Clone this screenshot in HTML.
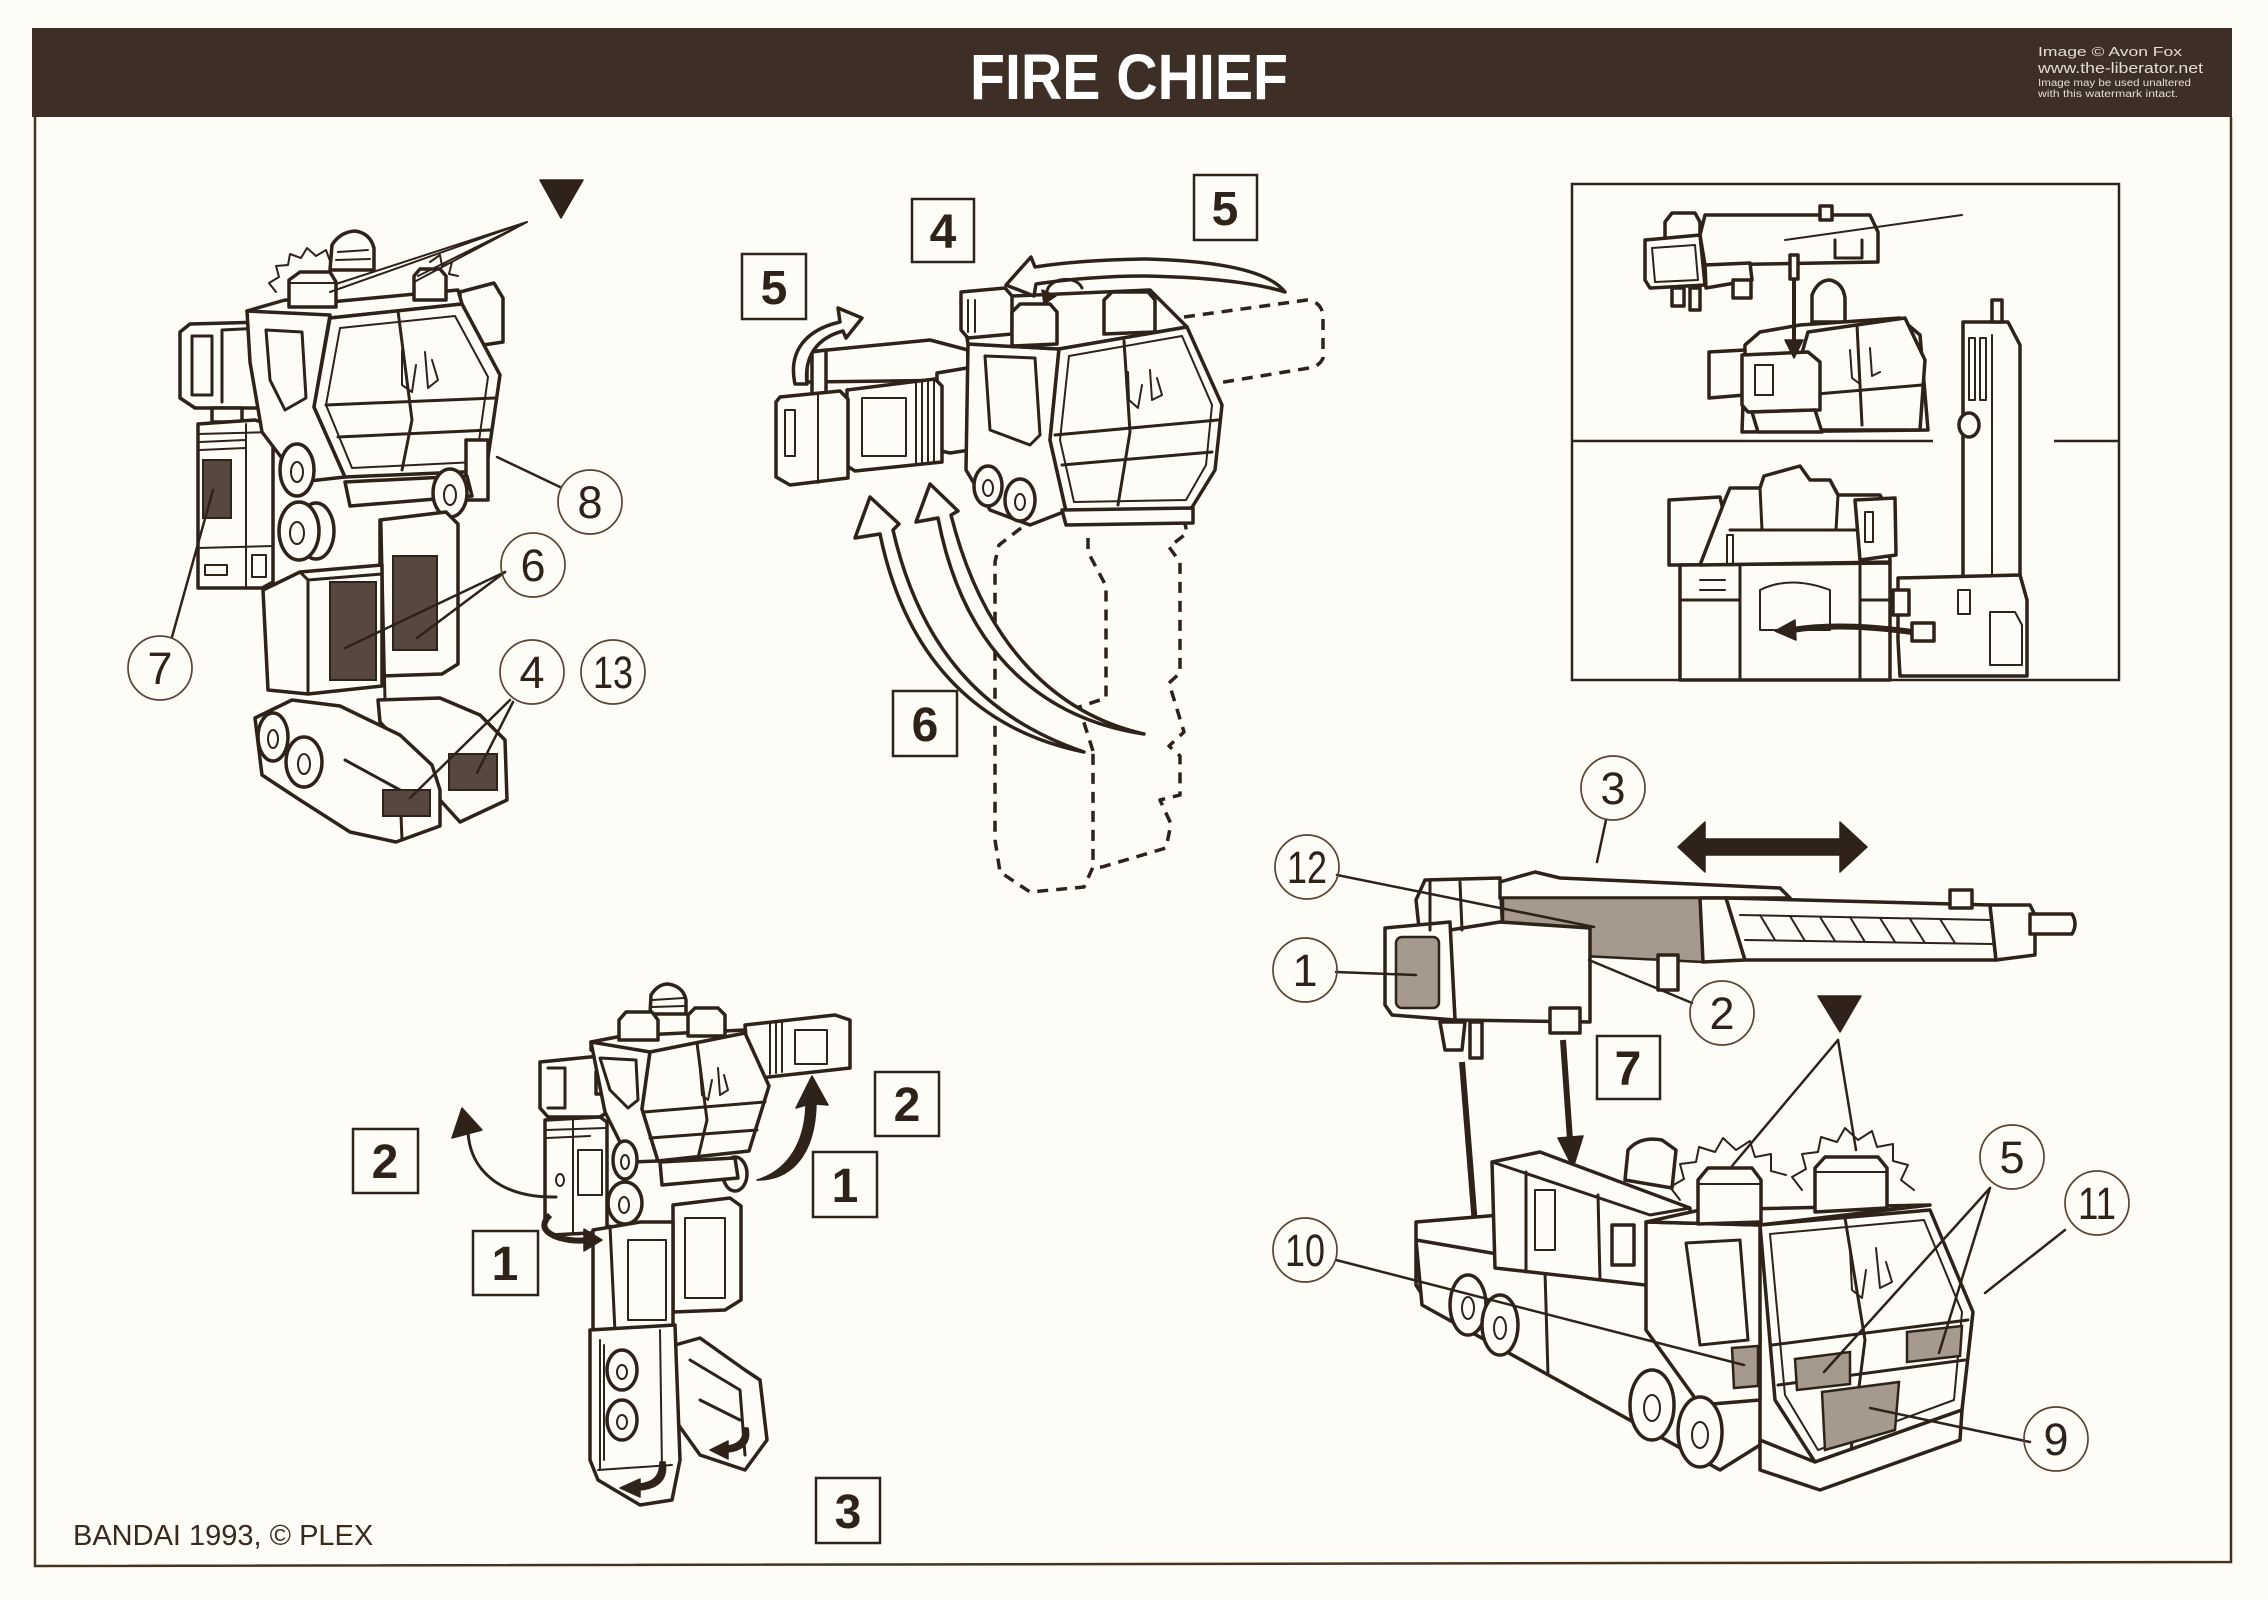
<!DOCTYPE html>
<html><head><meta charset="utf-8">
<style>
html,body{margin:0;padding:0;background:#fdfcf7;}
svg{display:block}
.o{fill:#fdfcf7;stroke:#2f2219;stroke-width:3.5;stroke-linejoin:round;stroke-linecap:round}
.l{fill:none;stroke:#2f2219;stroke-width:3;stroke-linecap:round;stroke-linejoin:round}
.t{fill:none;stroke:#2f2219;stroke-width:2;stroke-linecap:round;stroke-linejoin:round}
.d{fill:#56483e;stroke:#2f2219;stroke-width:2}
.g{fill:#a69a8f;stroke:#2f2219;stroke-width:2.5}
.k{fill:#2f2219;stroke:#2f2219;stroke-width:1.5;stroke-linejoin:round}
.ds{fill:none;stroke:#2f2219;stroke-width:3.5;stroke-dasharray:11 8;stroke-linejoin:round}
.c{fill:none;stroke:#5b4332;stroke-width:1.7}
.cn{font-family:"Liberation Sans Narrow","Liberation Sans",sans-serif;font-size:45px;fill:#2f2219;text-anchor:middle}
.b{fill:none;stroke:#2f2219;stroke-width:2.5}
.bn{font-family:"Liberation Sans",sans-serif;font-weight:bold;font-size:48px;fill:#2f2219;text-anchor:middle}
.ld{fill:none;stroke:#2f2219;stroke-width:2.5;stroke-linecap:round}
.wm{font-family:"Liberation Sans Narrow","Liberation Sans",sans-serif;fill:#e4ddd6}
</style></head><body>
<svg width="2268" height="1600" viewBox="0 0 2268 1600" xmlns="http://www.w3.org/2000/svg">
<rect x="0" y="0" width="2268" height="1600" fill="#fdfcf7"/>

<!-- HEADER -->
<rect x="32" y="28" width="2200" height="89" fill="#3e2f26"/>
<text x="1129" y="99" font-family="Liberation Sans, sans-serif" font-weight="bold" font-size="64" fill="#ffffff" text-anchor="middle" textLength="318" lengthAdjust="spacingAndGlyphs">FIRE CHIEF</text>
<text class="wm" x="2038" y="56" font-size="13" textLength="144" lengthAdjust="spacingAndGlyphs">Image © Avon Fox</text>
<text class="wm" x="2038" y="73" font-size="15" textLength="165" lengthAdjust="spacingAndGlyphs">www.the-liberator.net</text>
<text class="wm" x="2038" y="86" font-size="10" textLength="153" lengthAdjust="spacingAndGlyphs">Image may be used unaltered</text>
<text class="wm" x="2038" y="97" font-size="10" textLength="140" lengthAdjust="spacingAndGlyphs">with this watermark intact.</text>

<!-- FRAME -->
<path d="M35,117 L35,1566 L2231,1562 L2231,117" fill="none" stroke="#45331f" stroke-width="2.5"/>

<!-- ============ ROBOT 1 (top-left) ============ -->
<polygon class="k" points="540,180 583,180 561,218"/>
<polyline class="t" points="276,292 269,283 279,277 276,266 288,265 290,254 301,258 307,248 316,256 326,250 330,261"/>
<polyline class="t" points="430,262 440,255 442,266 452,262 449,274 458,276"/>
<polygon class="o" points="460,292 494,283 503,298 503,342 470,347 460,340"/>
<path class="o" d="M330,270 L332,245 Q340,232 355,231 Q370,233 374,248 L374,270 Z"/>
<path class="t" d="M338,252 L368,250 M336,260 L370,259"/>
<polygon class="o" points="247,311 285,300 330,302 458,290 462,304 330,318"/>
<polygon class="o" points="289,280 300,272 330,272 336,282 336,307 289,307"/>
<line class="t" x1="289" y1="283" x2="336" y2="283"/>
<polygon class="o" points="414,276 420,269 440,269 446,276 446,300 414,300"/>
<polygon class="o" points="180,332 190,324 262,322 274,330 274,400 262,408 195,408 180,398"/>
<path class="l" d="M192,336 L212,336 L212,395 L192,395 Z"/>
<path class="l" d="M222,330 L262,328 M222,330 L222,402"/>
<rect class="o" x="256" y="345" width="11" height="30"/>
<rect class="o" x="212" y="408" width="30" height="14"/>
<polygon class="o" points="198,424 255,420 273,426 273,582 262,588 198,588"/>
<path class="t" d="M198,434 L273,432 M200,442 L245,440 M200,450 L245,448 M246,424 L246,588 M198,548 L273,546"/>
<rect class="d" x="203" y="460" width="28" height="58"/>
<rect class="t" x="205" y="565" width="22" height="10"/>
<rect class="t" x="252" y="555" width="14" height="22"/>
<polygon class="o" points="247,311 330,315 314,407 345,477 300,482 262,432 250,362"/>
<polygon class="l" points="266,330 302,332 306,398 285,410 270,380"/>
<polygon class="o" points="330,318 462,304 500,375 486,471 345,477 314,407"/>
<polygon class="t" points="340,328 455,316 488,377 476,462 352,468 326,405"/>
<path class="l" d="M398,311 L412,420 L402,470 M326,405 L495,398 M338,437 L490,430"/>
<path class="t" d="M402,350 L402,385 L412,392 L416,365 M425,352 L428,388 L438,380 L432,360"/>
<rect class="o" x="466" y="440" width="22" height="60"/>
<polygon class="o" points="345,482 467,476 472,496 350,506"/>
<ellipse class="o" cx="297" cy="470" rx="17" ry="26"/><ellipse class="t" cx="297" cy="472" rx="6" ry="10"/>
<ellipse class="o" cx="316" cy="531" rx="18" ry="28"/>
<ellipse class="o" cx="299" cy="531" rx="20" ry="29"/><ellipse class="t" cx="297" cy="533" rx="7" ry="11"/>
<ellipse class="o" cx="450" cy="493" rx="17" ry="24"/><ellipse class="t" cx="450" cy="495" rx="6" ry="10"/>
<polygon class="o" points="380,520 446,512 458,524 458,664 442,674 380,676"/>
<rect class="d" x="393" y="556" width="44" height="94"/>
<polygon class="o" points="263,590 300,572 382,565 382,686 308,694 268,690"/>
<path class="l" d="M300,572 L308,580 L308,694 M308,580 L382,574"/>
<rect class="d" x="330" y="582" width="46" height="98"/>
<line class="l" x1="381" y1="520" x2="385" y2="700"/>
<polygon class="o" points="378,700 440,698 480,715 505,740 507,800 460,822 440,800 415,760 380,722"/>
<rect class="d" x="449" y="754" width="48" height="36"/>
<polygon class="o" points="255,718 292,700 340,706 400,735 432,765 440,790 440,826 396,842 350,832 300,800 262,775"/>
<path class="l" d="M345,760 L400,790 L402,840"/>
<rect class="d" x="383" y="790" width="47" height="26"/>
<ellipse class="o" cx="273" cy="737" rx="15" ry="24"/><ellipse class="t" cx="273" cy="739" rx="5" ry="9"/>
<ellipse class="o" cx="304" cy="762" rx="18" ry="25"/><ellipse class="t" cx="304" cy="764" rx="6" ry="10"/>
<!-- leaders r1 -->
<path class="t" d="M527,222 L330,292 M527,222 L336,284 M527,222 L414,282 M527,222 L418,276"/>
<line class="ld" x1="213" y1="490" x2="172" y2="637"/>
<line class="ld" x1="497" y1="457" x2="560" y2="487"/>
<line class="ld" x1="505" y1="572" x2="345" y2="648"/>
<line class="ld" x1="505" y1="572" x2="417" y2="638"/>
<line class="ld" x1="510" y1="700" x2="410" y2="798"/>
<line class="ld" x1="513" y1="702" x2="477" y2="773"/>

<!-- ============ TOP MIDDLE ============ -->
<polyline class="ds" points="1021,528 999,545 995,562 995,840 1000,872 1030,892 1084,887 1093,867 1093,751"/>
<polyline class="ds" points="1088,538 1088,552 1106,586 1106,698 1079,707 1093,751"/>
<polyline class="ds" points="1180,500 1187,533 1169,547 1180,562 1180,673 1169,683 1184,732 1169,746 1180,756 1180,795 1160,800 1171,824 1166,848 1102,867 1093,867"/>
<path class="ds" d="M1184,317 L1307,300 Q1323,302 1323,318 L1323,358 Q1320,366 1309,368 L1218,383"/>
<path class="o" d="M1084,752 C1000,735 910,680 880,534 L855,538 L870,497 L899,524 L893,530 C925,670 1005,725 1084,752 Z"/>
<path class="o" d="M1144,734 C1050,720 965,660 938,518 L916,522 L930,484 L958,511 L951,515 C985,650 1060,715 1144,734 Z"/>
<polygon class="o" points="807,352 930,340 968,350 968,380 807,382"/>
<polygon class="o" points="812,352 826,350 826,398 812,398"/>
<polygon class="o" points="937,373 985,365 996,376 996,446 950,453 937,450"/>
<rect class="l" x="978" y="385" width="10" height="40"/>
<polygon class="o" points="847,390 935,379 942,386 942,462 855,471 847,466"/>
<rect class="t" x="862" y="398" width="44" height="58"/>
<path class="t" d="M916,383 L916,465 M922,382 L922,464 M928,381 L928,464 M934,380 L934,463"/>
<polygon class="o" points="780,397 840,391 848,399 848,478 790,485 776,477 776,402"/>
<rect class="t" x="785" y="410" width="10" height="46"/>
<line class="t" x1="818" y1="393" x2="818" y2="483"/>
<path class="o" d="M795,384 C788,352 805,330 840,322 L838,308 L862,318 L846,338 L843,331 C817,338 804,356 807,384 Z"/>
<polygon class="o" points="968,344 1059,349 1050,440 1066,511 1030,525 990,510 966,470"/>
<polygon class="l" points="985,356 1035,358 1040,435 1030,445 990,430"/>
<ellipse class="o" cx="988" cy="486" rx="14" ry="20"/><ellipse class="t" cx="988" cy="488" rx="5" ry="8"/>
<ellipse class="o" cx="1020" cy="500" rx="15" ry="21"/><ellipse class="t" cx="1020" cy="502" rx="5" ry="8"/>
<polygon class="o" points="961,302 1012,296 1150,290 1187,327 1059,349 968,344"/>
<polygon class="o" points="961,292 1005,288 1012,296 1012,334 968,338 961,330"/>
<path class="t" d="M968,300 L968,332 M975,300 L975,332"/>
<polygon class="o" points="1012,312 1020,304 1050,304 1057,312 1057,344 1012,346"/>
<polygon class="o" points="1104,300 1112,292 1148,292 1155,300 1155,332 1104,334"/>
<polygon class="o" points="1059,349 1187,327 1222,405 1215,470 1191,509 1066,511 1050,440"/>
<polygon class="t" points="1069,356 1182,336 1212,405 1206,465 1186,500 1074,502 1060,440"/>
<path class="l" d="M1124,341 L1130,432 L1118,505 M1055,435 L1218,420 M1062,465 L1212,452"/>
<path class="t" d="M1128,372 L1129,400 L1138,408 L1142,385 M1150,370 L1152,400 L1162,395 L1157,378"/>
<polygon class="o" points="1062,510 1193,508 1193,523 1066,525"/>
<path class="o" d="M1285,292 Q1262,262 1146,259 Q1080,260 1035,267 L1031,257 L1006,285 L1034,296 L1036,284 Q1090,276 1146,276 Q1240,278 1285,292 Z"/>
<path class="l" d="M1048,298 C1040,280 1075,272 1082,288"/>
<polygon class="k" points="1042,290 1056,296 1044,304"/>

<!-- ============ TOP RIGHT BOX ============ -->
<rect x="1572" y="184" width="547" height="496" fill="none" stroke="#2f2219" stroke-width="2.5"/>
<line x1="1572" y1="441" x2="1933" y2="441" stroke="#2f2219" stroke-width="2.5"/>
<line x1="2054" y1="441" x2="2119" y2="441" stroke="#2f2219" stroke-width="2.5"/>
<polygon class="o" points="1665,222 1672,213 1695,213 1700,222 1700,240 1665,240"/>
<polygon class="o" points="1700,235 1705,215 1870,215 1878,232 1878,262 1705,265"/>
<polygon class="o" points="1645,240 1700,235 1705,285 1650,288 1645,280"/>
<polygon class="t" points="1652,248 1695,245 1698,280 1655,282"/>
<polygon class="o" points="1705,265 1750,263 1752,280 1706,288"/>
<rect class="o" x="1820" y="206" width="12" height="14"/>
<path class="l" d="M1835,240 L1835,258 L1862,258 L1862,240"/>
<rect class="o" x="1672" y="288" width="12" height="18"/><rect class="o" x="1690" y="288" width="10" height="22"/><rect class="o" x="1733" y="280" width="18" height="18"/>
<line class="t" x1="1785" y1="240" x2="1962" y2="215"/>
<path class="o" d="M1812,322 L1812,295 Q1818,280 1830,280 Q1843,283 1845,298 L1845,322 Z"/>
<polygon class="o" points="1760,332 1800,325 1900,318 1920,335 1928,430 1742,432 1745,345"/>
<polygon class="o" points="1808,332 1905,318 1925,360 1920,430 1812,430 1800,360"/>
<path class="l" d="M1857,325 L1862,425 M1805,395 L1922,385"/>
<path class="t" d="M1850,350 L1852,378 L1860,384 M1870,348 L1872,376 L1880,372"/>
<polygon class="o" points="1709,352 1745,350 1745,395 1709,398"/>
<polygon class="o" points="1742,355 1808,352 1820,362 1820,410 1748,412 1742,405"/>
<rect class="t" x="1755" y="365" width="18" height="30"/>
<polygon class="o" points="1752,412 1815,410 1822,432 1758,432"/>
<line x1="1794" y1="258" x2="1794" y2="345" stroke="#2f2219" stroke-width="4"/>
<rect class="o" x="1790" y="255" width="8" height="24"/>
<polygon class="k" points="1785,340 1803,340 1794,358"/>
<polygon class="o" points="1963,322 2008,322 2020,345 2020,577 1963,577"/>
<rect class="o" x="1992" y="300" width="10" height="22"/>
<rect class="t" x="1969" y="338" width="6" height="62"/><rect class="t" x="1980" y="338" width="6" height="62"/>
<line class="t" x1="1992" y1="335" x2="1992" y2="577"/>
<ellipse class="o" cx="1969" cy="425" rx="10" ry="12"/>
<polygon class="o" points="1669,500 1720,497 1730,540 1715,565 1669,565"/>
<polygon class="o" points="1680,565 1890,563 1890,680 1680,680"/>
<polygon class="o" points="1725,500 1730,488 1760,488 1764,476 1800,466 1810,480 1830,480 1838,495 1880,495 1888,510 1890,562 1700,565"/>
<path class="l" d="M1760,488 L1762,530 M1838,495 L1836,530 M1730,530 L1860,530"/>
<rect class="t" x="1727" y="535" width="6" height="30"/>
<polygon class="o" points="1855,500 1895,498 1896,555 1860,560"/>
<rect class="t" x="1865" y="512" width="8" height="30"/>
<path class="l" d="M1740,565 L1740,680 M1860,565 L1860,680 M1680,600 L1740,600 M1860,600 L1890,600"/>
<path class="t" d="M1760,590 Q1790,575 1830,590 L1830,630 L1760,630 Z M1700,580 L1725,580 M1700,590 L1725,590"/>
<polygon class="o" points="1898,578 2020,575 2027,600 2027,676 1900,676 1898,640"/>
<rect class="o" x="1893" y="590" width="16" height="25"/>
<polygon class="t" points="1990,612 2015,612 2022,625 2022,665 1990,665"/>
<rect class="t" x="1958" y="590" width="12" height="24"/>
<path d="M1912,632 Q1840,622 1792,630" fill="none" stroke="#2f2219" stroke-width="6"/>
<polygon class="k" points="1795,620 1775,631 1796,640"/>
<rect class="o" x="1912" y="623" width="22" height="18"/>

<!-- ============ BOTTOM LEFT ROBOT ============ -->
<path class="o" d="M650,1014 L651,995 Q658,984 668,984 Q683,986 686,1000 L686,1014 Z"/>
<path class="t" d="M652,1000 L684,998 M652,1007 L684,1006"/>
<polygon class="o" points="591,1042 622,1036 745,1030 747,1038 650,1052 591,1050"/>
<polygon class="o" points="619,1020 626,1012 652,1012 658,1020 658,1040 619,1040"/>
<polygon class="o" points="688,1015 695,1008 718,1008 725,1015 725,1036 688,1036"/>
<polygon class="o" points="745,1025 835,1015 850,1020 850,1068 760,1078 749,1070"/>
<rect class="t" x="795" y="1030" width="32" height="34"/>
<path class="t" d="M770,1023 L770,1074 M776,1022 L776,1073 M782,1021 L782,1072"/>
<polygon class="o" points="540,1062 600,1056 611,1062 611,1110 600,1117 548,1117 540,1108"/>
<path class="l" d="M548,1068 L565,1068 L565,1108 L548,1108"/>
<rect class="o" x="596" y="1072" width="9" height="22"/>
<polygon class="o" points="545,1120 600,1117 607,1122 607,1232 552,1235 545,1228"/>
<path class="t" d="M547,1130 L605,1128 M547,1138 L590,1136 M573,1120 L573,1233"/>
<rect class="t" x="578" y="1150" width="24" height="45"/>
<ellipse class="t" cx="560" cy="1180" rx="4" ry="6"/>
<polygon class="o" points="591,1042 650,1052 642,1109 658,1161 630,1162 605,1112"/>
<polygon class="l" points="600,1058 636,1060 638,1100 628,1108 610,1090"/>
<polygon class="o" points="650,1052 745,1033 769,1086 749,1151 658,1161 642,1109"/>
<path class="l" d="M697,1043 L707,1120 L698,1158 M644,1112 L765,1102 M650,1138 L757,1130"/>
<path class="t" d="M700,1070 L702,1095 L708,1100 L712,1080 M718,1068 L720,1095 L728,1090 L724,1075"/>
<ellipse class="o" cx="625" cy="1160" rx="12" ry="19"/><ellipse class="t" cx="625" cy="1162" rx="4" ry="7"/>
<ellipse class="o" cx="735" cy="1174" rx="12" ry="17"/>
<polygon class="o" points="660,1162 735,1158 738,1178 662,1185"/>
<polygon class="o" points="673,1205 730,1198 741,1206 741,1300 725,1310 673,1312"/>
<rect class="t" x="685" y="1218" width="40" height="80"/>
<polygon class="o" points="593,1230 640,1222 673,1222 673,1325 600,1335 593,1328"/>
<path class="l" d="M610,1226 L615,1332"/>
<rect class="t" x="628" y="1240" width="38" height="80"/>
<ellipse class="o" cx="625" cy="1203" rx="17" ry="21"/><ellipse class="t" cx="624" cy="1205" rx="5" ry="8"/>
<polygon class="o" points="675,1345 700,1338 745,1370 760,1380 767,1440 745,1470 700,1455 675,1420"/>
<path class="l" d="M690,1360 L740,1390 L745,1455 M700,1400 L740,1420"/>
<polygon class="o" points="590,1330 675,1325 680,1460 672,1500 640,1505 598,1480 590,1460"/>
<path class="t" d="M600,1340 L600,1470 M660,1330 L662,1470 M598,1470 L672,1465 M604,1345 L604,1460"/>
<ellipse class="o" cx="622" cy="1370" rx="15" ry="20"/><ellipse class="t" cx="622" cy="1372" rx="5" ry="7"/>
<ellipse class="o" cx="622" cy="1420" rx="15" ry="20"/><ellipse class="t" cx="622" cy="1422" rx="5" ry="7"/>
<path class="l" d="M556,1197 C500,1198 470,1170 468,1132"/>
<polygon class="k" points="462,1108 452,1138 482,1130"/>
<path d="M550,1215 Q535,1230 560,1238 Q575,1242 588,1240" fill="none" stroke="#2f2219" stroke-width="6"/>
<polygon class="k" points="584,1229 602,1240 584,1251"/>
<path class="k" d="M757,1180 C790,1170 805,1140 806,1105 L796,1108 L812,1076 L828,1105 L816,1104 C815,1150 795,1180 757,1180 Z"/>
<path class="k" d="M665,1462 C668,1478 660,1488 640,1490 L640,1497 L620,1488 L640,1479 L640,1484 C655,1482 660,1475 660,1462 Z"/>
<path class="k" d="M748,1428 C751,1442 744,1450 728,1452 L728,1459 L710,1450 L728,1441 L728,1446 C740,1444 744,1438 743,1428 Z"/>

<!-- ============ BOTTOM RIGHT: BOOM ============ -->
<polygon class="o" points="1416,900 1425,880 1500,878 1503,935 1420,937"/>
<polygon class="o" points="1500,882 1535,872 1560,878 1780,888 1790,898 1500,898"/>
<polygon class="g" points="1503,898 1700,898 1703,962 1503,952"/>
<polygon class="o" points="1700,898 1726,898 1745,960 1703,962"/>
<polygon class="o" points="1726,898 1990,905 1996,960 1745,960"/>
<path class="t" d="M1740,915 L1990,920 M1745,940 L1992,944 M1760,915 L1775,940 M1790,916 L1805,941 M1820,917 L1835,941 M1850,917 L1865,942 M1880,918 L1895,942 M1910,919 L1925,943 M1940,919 L1955,943"/>
<rect class="o" x="1950" y="890" width="22" height="18"/>
<polygon class="o" points="1990,905 2030,905 2035,915 2035,955 1996,960"/>
<path class="o" d="M2030,914 L2072,914 Q2078,924 2072,934 L2030,934 Z"/>
<rect class="o" x="1658" y="955" width="20" height="35"/>
<polygon class="o" points="1450,930 1500,922 1590,928 1590,1022 1455,1020"/>
<polygon class="o" points="1385,928 1450,922 1455,1020 1392,1015 1385,1005"/>
<rect class="g" x="1396" y="937" width="43" height="71" rx="6"/>
<path class="l" d="M1430,880 L1430,930 M1460,882 L1462,930"/>
<polygon class="o" points="1440,1022 1465,1022 1462,1050 1445,1050"/>
<rect class="o" x="1470" y="1022" width="12" height="36"/>
<rect class="o" x="1550" y="1008" width="30" height="25"/>
<polygon class="k" points="1678,847 1705,822 1705,839 1840,839 1840,822 1867,847 1840,872 1840,855 1705,855 1705,872"/>
<line x1="1462" y1="1062" x2="1475" y2="1225" stroke="#2f2219" stroke-width="6"/>
<polygon class="k" points="1463,1222 1488,1220 1477,1250"/>
<line x1="1563" y1="1040" x2="1570" y2="1140" stroke="#2f2219" stroke-width="6"/>
<polygon class="k" points="1558,1138 1583,1136 1573,1168"/>
<polygon class="k" points="1818,996 1861,996 1840,1032"/>

<!-- TRUCK -->
<polyline class="t" points="1680,1200 1670,1187 1684,1179 1680,1164 1696,1162 1699,1147 1715,1152 1723,1138 1736,1150 1750,1141 1755,1157 1771,1154 1771,1171 1786,1175"/>
<polyline class="t" points="1802,1190 1792,1177 1806,1169 1802,1154 1818,1152 1821,1137 1837,1142 1845,1128 1858,1140 1872,1131 1877,1147 1893,1144 1893,1161 1908,1165 1901,1180 1914,1190"/>
<polygon class="o" points="1416,1222 1500,1215 1520,1235 1520,1300 1432,1310 1416,1285"/>
<path class="l" d="M1422,1250 L1510,1262 M1430,1275 L1515,1282"/>
<polygon class="o" points="1416,1240 1660,1282 1760,1330 1760,1445 1720,1470 1422,1305"/>
<line class="l" x1="1545" y1="1272" x2="1548" y2="1375"/>
<polygon class="o" points="1492,1162 1540,1152 1690,1208 1690,1290 1495,1268"/>
<path class="l" d="M1492,1162 L1650,1215 L1690,1208 M1526,1172 L1526,1272 M1598,1195 L1600,1280"/>
<rect class="t" x="1535" y="1190" width="20" height="60"/>
<rect class="o" x="1612" y="1225" width="22" height="40"/>
<path class="o" d="M1625,1180 L1628,1150 Q1640,1136 1662,1140 L1676,1150 L1672,1188 Z"/>
<polygon class="o" points="1646,1222 1760,1225 1760,1400 1700,1405 1646,1330"/>
<polygon class="l" points="1686,1243 1740,1240 1748,1340 1700,1345"/>
<polygon class="o" points="1646,1222 1700,1210 1930,1205 1760,1225"/>
<polygon class="o" points="1698,1180 1708,1168 1752,1168 1761,1180 1761,1222 1698,1224"/>
<line class="t" x1="1698" y1="1184" x2="1761" y2="1184"/>
<polygon class="o" points="1815,1168 1825,1157 1878,1157 1887,1168 1887,1208 1815,1212"/>
<line class="t" x1="1815" y1="1172" x2="1887" y2="1172"/>
<polygon class="o" points="1760,1225 1930,1210 1973,1312 1962,1410 1815,1462 1775,1400"/>
<polygon class="t" points="1770,1234 1924,1220 1962,1312 1954,1400 1818,1450 1785,1395"/>
<path class="l" d="M1845,1218 L1865,1340 L1850,1458 M1772,1345 L1968,1320 M1778,1385 L1965,1360"/>
<path class="t" d="M1850,1250 L1852,1290 L1862,1298 L1866,1270 M1876,1248 L1880,1288 L1892,1282 L1886,1262"/>
<polygon class="o" points="1760,1440 1815,1462 1962,1410 1960,1440 1820,1490 1760,1470"/>
<polygon class="g" points="1795,1359 1850,1352 1850,1384 1797,1390"/>
<polygon class="g" points="1907,1332 1962,1326 1960,1356 1907,1362"/>
<polygon class="g" points="1822,1392 1899,1382 1895,1430 1825,1450"/>
<polygon class="g" points="1732,1348 1758,1346 1758,1386 1734,1388"/>
<ellipse class="o" cx="1468" cy="1305" rx="18" ry="30"/><ellipse class="t" cx="1468" cy="1308" rx="6" ry="11"/>
<ellipse class="o" cx="1500" cy="1325" rx="18" ry="30"/><ellipse class="t" cx="1500" cy="1328" rx="6" ry="11"/>
<ellipse class="o" cx="1652" cy="1405" rx="22" ry="35"/><ellipse class="t" cx="1652" cy="1408" rx="8" ry="13"/>
<ellipse class="o" cx="1700" cy="1432" rx="22" ry="35"/><ellipse class="t" cx="1700" cy="1435" rx="8" ry="13"/>

<!-- leaders bottom right -->
<line class="ld" x1="1606" y1="820" x2="1597" y2="862"/>
<line class="ld" x1="1337" y1="875" x2="1594" y2="927"/>
<line class="ld" x1="1336" y1="972" x2="1416" y2="975"/>
<line class="ld" x1="1692" y1="1003" x2="1589" y2="960"/>
<line class="ld" x1="1838" y1="1040" x2="1732" y2="1166"/>
<line class="ld" x1="1838" y1="1040" x2="1856" y2="1150"/>
<line class="ld" x1="1336" y1="1260" x2="1744" y2="1365"/>
<line class="ld" x1="1990" y1="1188" x2="1824" y2="1372"/>
<line class="ld" x1="1990" y1="1188" x2="1939" y2="1353"/>
<line class="ld" x1="2065" y1="1230" x2="1985" y2="1293"/>
<line class="ld" x1="2030" y1="1442" x2="1870" y2="1408"/>

<!-- CIRCLED LABELS -->
<g>
<circle class="c" cx="160" cy="668" r="32" fill="#fdfcf7"/><text class="cn" x="160" y="684">7</text>
<circle class="c" cx="590" cy="502" r="32"/><text class="cn" x="590" y="518">8</text>
<circle class="c" cx="533" cy="565" r="32"/><text class="cn" x="533" y="581">6</text>
<circle class="c" cx="532" cy="672" r="32"/><text class="cn" x="532" y="688">4</text>
<circle class="c" cx="613" cy="672" r="32"/><text class="cn" x="613" y="688" textLength="40" lengthAdjust="spacingAndGlyphs">13</text>
<circle class="c" cx="1613" cy="788" r="32"/><text class="cn" x="1613" y="804">3</text>
<circle class="c" cx="1307" cy="867" r="32"/><text class="cn" x="1307" y="883" textLength="40" lengthAdjust="spacingAndGlyphs">12</text>
<circle class="c" cx="1305" cy="970" r="32"/><text class="cn" x="1305" y="986">1</text>
<circle class="c" cx="1722" cy="1013" r="32"/><text class="cn" x="1722" y="1029">2</text>
<circle class="c" cx="1305" cy="1250" r="32"/><text class="cn" x="1305" y="1266" textLength="40" lengthAdjust="spacingAndGlyphs">10</text>
<circle class="c" cx="2012" cy="1157" r="32"/><text class="cn" x="2012" y="1173">5</text>
<circle class="c" cx="2097" cy="1203" r="32"/><text class="cn" x="2097" y="1219" textLength="38" lengthAdjust="spacingAndGlyphs">11</text>
<circle class="c" cx="2056" cy="1439" r="32"/><text class="cn" x="2056" y="1455">9</text>
</g>

<!-- BOXED STEP NUMBERS -->
<g>
<rect class="b" x="912" y="199" width="62" height="63"/><text class="bn" x="943" y="248">4</text>
<rect class="b" x="1194" y="175" width="63" height="65"/><text class="bn" x="1225" y="225">5</text>
<rect class="b" x="742" y="254" width="64" height="65"/><text class="bn" x="774" y="304">5</text>
<rect class="b" x="893" y="691" width="64" height="65"/><text class="bn" x="925" y="741">6</text>
<rect class="b" x="353" y="1129" width="65" height="64"/><text class="bn" x="385" y="1178">2</text>
<rect class="b" x="875" y="1072" width="64" height="64"/><text class="bn" x="907" y="1121">2</text>
<rect class="b" x="813" y="1152" width="64" height="65"/><text class="bn" x="845" y="1202">1</text>
<rect class="b" x="473" y="1231" width="65" height="64"/><text class="bn" x="505" y="1280">1</text>
<rect class="b" x="816" y="1478" width="64" height="65"/><text class="bn" x="848" y="1528">3</text>
<rect class="b" x="1597" y="1036" width="63" height="63"/><text class="bn" x="1628" y="1085">7</text>
</g>

<!-- FOOTER -->
<text x="73" y="1545" font-family="Liberation Sans, sans-serif" font-size="29" fill="#3a2a1e">BANDAI 1993, © PLEX</text>
</svg>
</body></html>
